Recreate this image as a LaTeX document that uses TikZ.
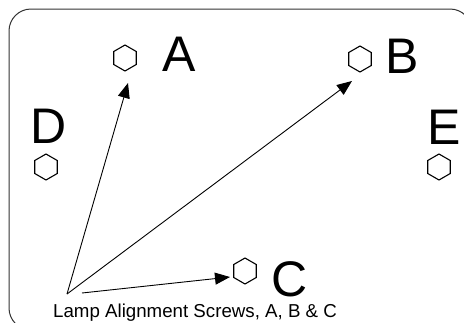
\documentclass[tikz,border=0pt]{standalone}
\usepackage{fontspec}
\setmainfont{Liberation Sans}
\usetikzlibrary{shapes.geometric, arrows.meta}

\begin{document}
\begin{tikzpicture}[x=1pt, y=-1pt,
	screw/.style={draw, regular polygon, regular polygon sides=6, shape border rotate=30, minimum size=26pt, inner sep=0pt, line width=1.1pt},
	letter/.style={inner sep=0pt, font=\fontsize{50}{50}\selectfont},
	pointer/.style={-{Triangle[length=15pt, width=12pt]}, line width=0.9pt}]

\useasboundingbox (0,0) rectangle (464,322);
\clip (0,0) rectangle (464,322);

% lamp housing outline
\draw[rounded corners=22pt, line width=1pt, black!80] (9,9) rectangle (472,330);

% screws
\node[screw] (hexA) at (125,58) {};
\node[screw] (hexB) at (360,59) {};
\node[screw] (hexC) at (245,271) {};
\node[screw] (hexD) at (46,167) {};
\node[screw] (hexE) at (439,167) {};

\node[letter] (labA) at (179.5,54) {A};
\node[letter] (labB) at (402.5,56.5) {B};
\node[letter] (labC) at (289.5,279) {C};
\node[letter] (labD) at (49,126.5) {D};
\node[letter] (labE) at (444,127.5) {E};

\node[anchor=base west, inner sep=0pt, font=\fontsize{18.7}{20}\selectfont] (caption) at (53,317) {Lamp Alignment Screws, A, B \& C};

% pointers
\coordinate (from) at (67,294);
\coordinate (fromC) at (82,293);
\coordinate (tipA) at (128,83);
\coordinate (tipB) at (352,81);
\coordinate (tipC) at (230,277);

\draw[pointer] (from) -- (tipA);
\draw[pointer] (from) -- (tipB);
\draw[pointer] (fromC) -- (tipC);

\end{tikzpicture}
\end{document}
